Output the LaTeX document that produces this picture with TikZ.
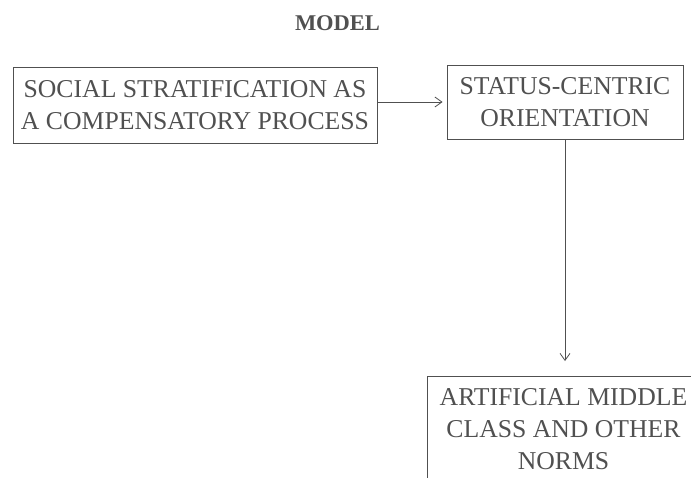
\documentclass[tikz,border=0pt]{standalone}
\usepackage{fontspec}
\setmainfont{Liberation Serif}
\usepackage{tikz}
\usetikzlibrary{arrows.meta}
\definecolor{ink}{RGB}{80,80,80}
\newcommand{\boxfont}{\fontsize{25.7pt}{32pt}\selectfont}
\tikzstyle{concept} = [rectangle, draw=ink, text=ink, line width=0.9pt, align=center, font=\boxfont]
\tikzstyle{arrow} = [line width=0.8pt, draw=ink, -{Straight Barb[length=7pt,width=10pt]}]

\begin{document}
\begin{tikzpicture}[x=1pt, y=1pt, node distance=370pt]
	\clip (0,0) rectangle (691,-478);

	% Nodes of the model
	\node (stratification) [concept, minimum width=364pt, minimum height=76pt] at (195,-105) {SOCIAL STRATIFICATION AS\\A COMPENSATORY PROCESS};
	\node (orientation) [concept, right of=stratification, yshift=3pt, minimum width=236pt, minimum height=74pt] {STATUS-CENTRIC\\ORIENTATION};
	\node (norms) [concept, below of=orientation, node distance=327.5pt, xshift=-1.5pt, minimum width=273pt, minimum height=106pt] {ARTIFICIAL MIDDLE\\CLASS AND OTHER\\NORMS};

	% Title
	\node (title) [above of=stratification, node distance=82pt, xshift=142.5pt, text=ink, font=\fontsize{22.5pt}{26pt}\selectfont\bfseries] {MODEL};

	% Arrows
	\draw [arrow, shorten >=4pt] (stratification.east |- orientation) -- (orientation.west);
	\draw [arrow, shorten >=15pt] (orientation.south) -- (orientation.south |- norms.north);

\end{tikzpicture}
\end{document}
